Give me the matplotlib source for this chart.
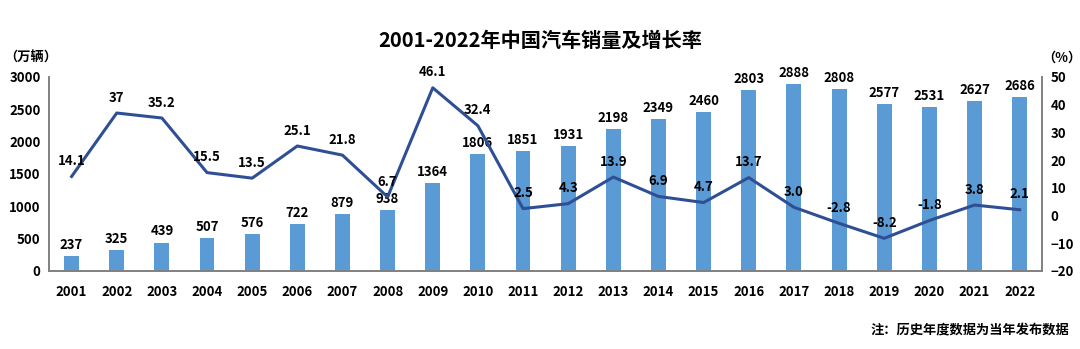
import matplotlib.pyplot as plt
import numpy as np

plt.rcParams['font.family'] = ['Noto Sans CJK SC', 'DejaVu Sans']
plt.rcParams['font.weight'] = 'bold'

years = [str(y) for y in range(2001, 2023)]
sales = [237, 325, 439, 507, 576, 722, 879, 938, 1364, 1806, 1851,
         1931, 2198, 2349, 2460, 2803, 2888, 2808, 2577, 2531, 2627, 2686]
growth = [14.1, 37, 35.2, 15.5, 13.5, 25.1, 21.8, 6.7, 46.1, 32.4, 2.5,
          4.3, 13.9, 6.9, 4.7, 13.7, 3.0, -2.8, -8.2, -1.8, 3.8, 2.1]
growth_labels = ['14.1', '37', '35.2', '15.5', '13.5', '25.1', '21.8', '6.7',
                 '46.1', '32.4', '2.5', '4.3', '13.9', '6.9', '4.7', '13.7',
                 '3.0', '-2.8', '-8.2', '-1.8', '3.8', '2.1']

bar_color = '#5B9BD5'
line_color = '#2F4F95'
spine_color = '#808080'
fs = 9.5

fig = plt.figure(figsize=(10.8, 3.49), dpi=100)
ax = fig.add_axes([0.0454, 0.2235, 0.9196, 0.5559])
ax2 = ax.twinx()

x = np.arange(len(years))
ax.bar(x, sales, width=0.33, color=bar_color, zorder=2)
for xi, v in zip(x, sales):
    ax.annotate(str(v), (xi, v), xytext=(0, 3), textcoords='offset points',
                ha='center', va='bottom', fontsize=fs, fontweight='bold')

ax.set_xlim(-0.5, len(years) - 0.5)
ax.set_ylim(0, 3000)
ax.set_yticks(range(0, 3001, 500))
ax.set_xticks(x)
ax.set_xticklabels(years)

ax2.plot(x, growth, color=line_color, lw=2.2, zorder=3)
for xi, v, s in zip(x, growth, growth_labels):
    ax2.annotate(s, (xi, v), xytext=(0, 6), textcoords='offset points',
                 ha='center', va='bottom', fontsize=fs, fontweight='bold')
ax2.set_ylim(-20, 50)
ax2.set_yticks(range(-20, 51, 10))

for a in (ax, ax2):
    a.spines['top'].set_visible(False)
    for side in ('left', 'right', 'bottom'):
        a.spines[side].set_color(spine_color)
        a.spines[side].set_linewidth(1.2)
    a.tick_params(length=0, labelsize=fs, pad=6)
    for lbl in a.get_xticklabels() + a.get_yticklabels():
        lbl.set_fontweight('bold')
ax.tick_params(axis='x', pad=10)

fig.text(0.5, 0.885, '2001-2022年中国汽车销量及增长率', ha='center', va='center',
         fontsize=14.5, fontweight='bold')
fig.text(0.004, 0.835, '（万辆）', ha='left', va='center', fontsize=fs,
         fontweight='bold')
fig.text(0.965, 0.835, '（%）', ha='left', va='center', fontsize=fs,
         fontweight='bold')
fig.text(0.99, 0.052, '注：历史年度数据为当年发布数据', ha='right', va='center',
         fontsize=fs, fontweight='bold')

fig.savefig('out.png', dpi=100)
